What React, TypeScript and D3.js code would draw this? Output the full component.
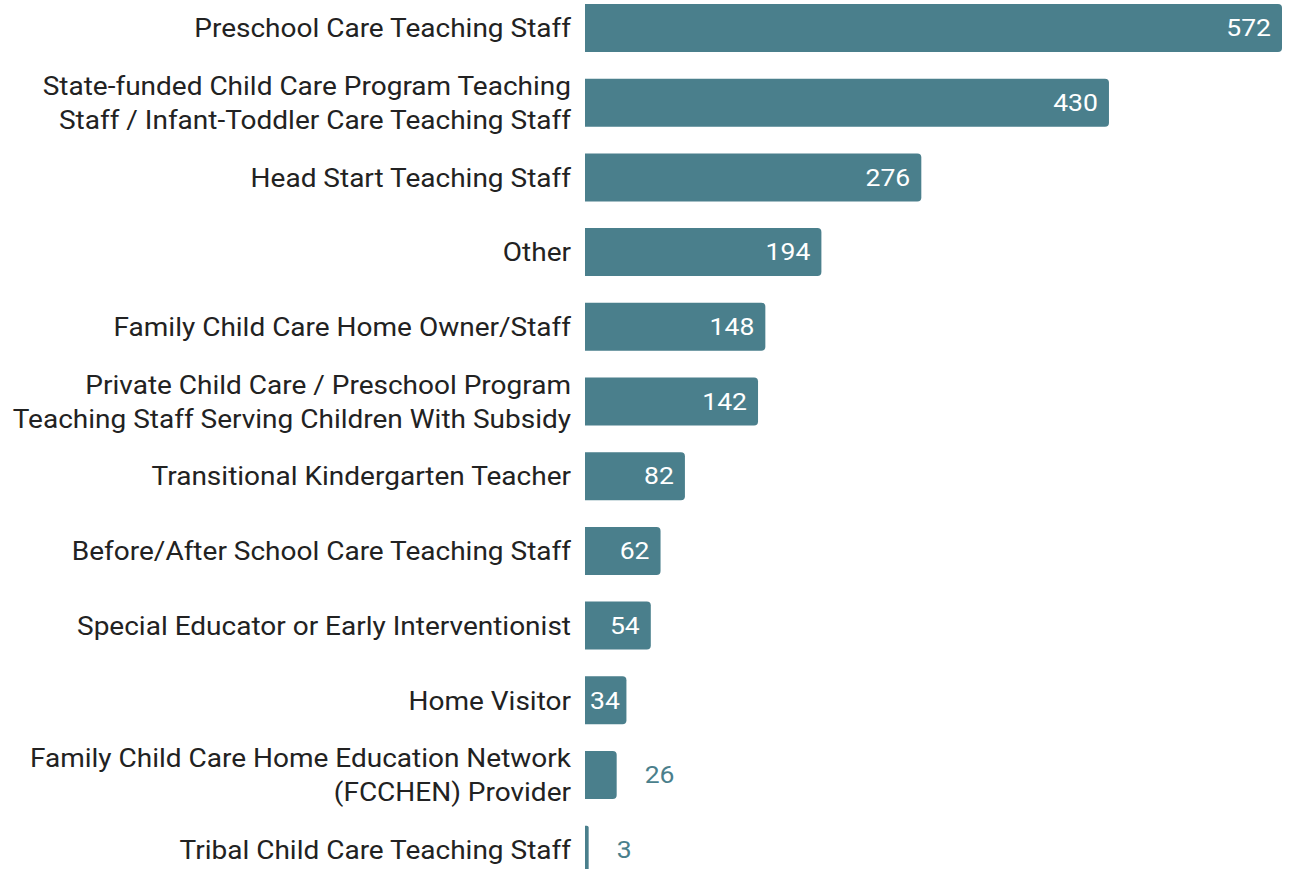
import { useRef, useEffect } from "react";
import * as d3 from "d3";

const categories = [
  ["Preschool Care Teaching Staff"],
  ["State-funded Child Care Program Teaching", "Staff / Infant-Toddler Care Teaching Staff"],
  ["Head Start Teaching Staff"],
  ["Other"],
  ["Family Child Care Home Owner/Staff"],
  ["Private Child Care / Preschool Program", "Teaching Staff Serving Children With Subsidy"],
  ["Transitional Kindergarten Teacher"],
  ["Before/After School Care Teaching Staff"],
  ["Special Educator or Early Interventionist"],
  ["Home Visitor"],
  ["Family Child Care Home Education Network", "(FCCHEN) Provider"],
  ["Tribal Child Care Teaching Staff"],
];
const values = [572, 430, 276, 194, 148, 142, 82, 62, 54, 34, 26, 3];

const W = 1290, H = 869;
const COLOR = "#4a7f8c";

export default function App() {
  const svgRef = useRef<SVGSVGElement>(null);

  useEffect(() => {
    if (!svgRef.current) return;
    const svg = d3.select(svgRef.current);
    svg.selectAll("*").remove();

    const step = 74.7;
    const y = d3.scaleBand<number>()
      .domain(d3.range(values.length))
      .range([4 - 13.35, 4 - 13.35 + step * values.length])
      .paddingInner(0.357)
      .paddingOuter(0.1785);
    const x = d3.scaleLinear().domain([0, 572]).range([585, 1282]);

    const r = 4;
    const barPath = (v: number, i: number) => {
      const x0 = x(0), x1 = x(v), y0 = y(i)!, h = y.bandwidth();
      const rr = Math.min(r, (x1 - x0) / 2);
      return `M${x0},${y0}H${x1 - rr}Q${x1},${y0} ${x1},${y0 + rr}V${y0 + h - rr}Q${x1},${y0 + h} ${x1 - rr},${y0 + h}H${x0}Z`;
    };

    const g = svg.append("g");
    g.selectAll("path.bar")
      .data(values)
      .join("path")
      .attr("class", "bar")
      .attr("d", (d, i) => barPath(d, i))
      .attr("fill", COLOR);

    // category labels (slightly wide, as in the source)
    const lab = g.selectAll("text.cat")
      .data(categories)
      .join("text")
      .attr("class", "cat")
      .attr("text-anchor", "end")
      .attr("transform", (d, i) => `translate(571,${y(i)! + y.bandwidth() / 2}) scale(1.057,1)`)
      .attr("fill", "#222")
      .attr("font-family", "Roboto, sans-serif")
      .attr("font-size", 26.5);
    lab.each(function (lines) {
      const t = d3.select(this);
      lines.forEach((ln, j) => {
        t.append("tspan")
          .attr("x", 0)
          .attr("y", (j - (lines.length - 1) / 2) * 34)
          .attr("dy", "0.35em")
          .text(ln);
      });
    });

    // value labels
    const sx = 1.13;
    g.selectAll("text.val")
      .data(values)
      .join("text")
      .attr("class", "val")
      .attr("font-family", "Roboto, sans-serif")
      .attr("font-size", 23.5)
      .attr("dy", "0.35em")
      .attr("fill", d => (d >= 34 ? "#fff" : COLOR))
      .text(d => d)
      .each(function (d, i) {
        const t = d3.select(this);
        const w = (this as SVGTextElement).getComputedTextLength() * sx;
        const cy = y(i)! + y.bandwidth() / 2;
        let left: number;
        if (d >= 34) left = Math.max(x(d) - 11 - w, x(0) + 5);
        else left = x(d) + 28;
        t.attr("transform", `translate(${left},${cy}) scale(${sx},1)`);
      });
  }, []);

  return (
    <svg ref={svgRef} width={W} height={H}
      style={{ position: "absolute", left: 0, top: 0, background: "#fff" }} />
  );
}
